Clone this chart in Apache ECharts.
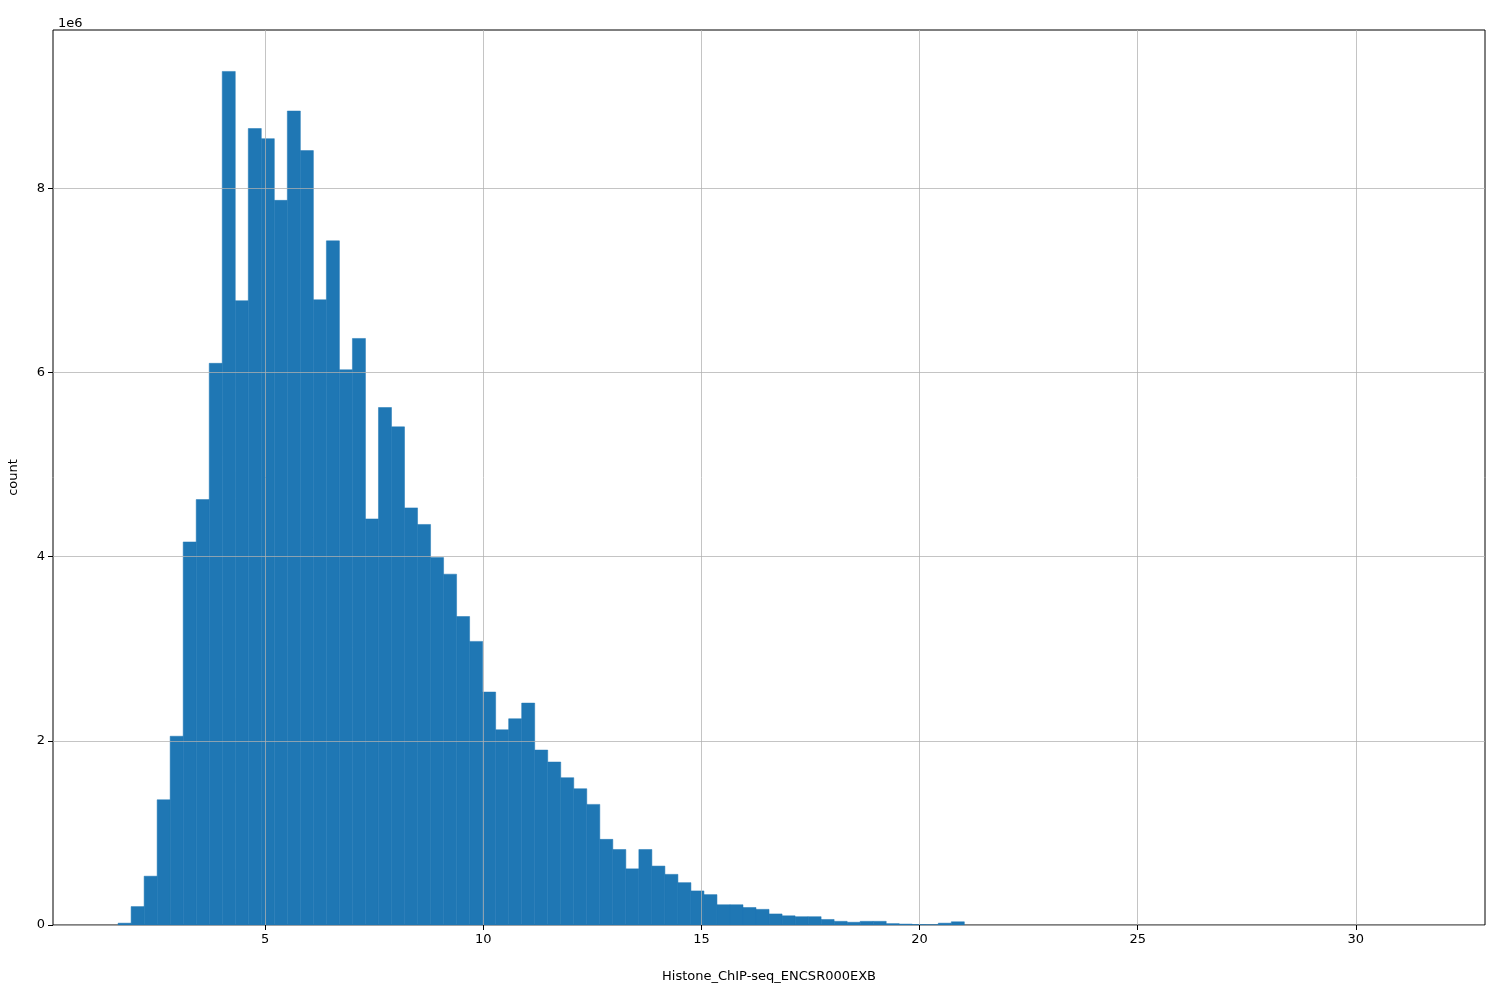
<!DOCTYPE html>
<html>
<head>
<meta charset="utf-8">
<script src="https://cdn.jsdelivr.net/npm/echarts@6/dist/echarts.min.js"></script>
<style>html,body{margin:0;padding:0;background:#fff}#main{width:1500px;height:1000px}</style>
</head>
<body>
<div id="main"></div>
<script>
// histogram: 100 bins from binStart, width binWidth
const binStart = 1.63;
const binWidth = 0.2984;
// counts in millions, per bin
const counts = [
  0.02, 0.2, 0.53, 1.36, 2.05, 4.16, 4.62, 6.1, 9.27, 6.78,
  8.65, 8.54, 7.87, 8.84, 8.41, 6.79, 7.43, 6.03, 6.37, 4.41,
  5.62, 5.41, 4.53, 4.35, 3.99, 3.81, 3.35, 3.08, 2.53, 2.12,
  2.24, 2.41, 1.9, 1.77, 1.6, 1.48, 1.31, 0.93, 0.82, 0.61,
  0.82, 0.64, 0.55, 0.46, 0.37, 0.33, 0.22, 0.22, 0.19, 0.17,
  0.12, 0.10, 0.09, 0.09, 0.06, 0.04, 0.03, 0.04, 0.04, 0.015,
  0.01, 0.005, 0.003, 0.02, 0.035
];
const xTicks = [5, 10, 15, 20, 25, 30];
const yTicks = [0, 2e6, 4e6, 6e6, 8e6];

const chart = echarts.init(document.getElementById('main'));
const data = counts.map((c, i) => [binStart + i * binWidth, binStart + (i + 1) * binWidth, c * 1e6]);
const font = 'DejaVu Sans';
const gridLine = { show: true, lineStyle: { color: 'rgba(176,176,176,0.75)', width: 1 } };

chart.setOption({
  animation: false,
  grid: { left: 53, right: 15, top: 30, bottom: 75, containLabel: false, outerBoundsMode: 'none',
    show: true, borderColor: '#000', borderWidth: 1 },
  title: { text: '1e6', left: 53, top: 12, textStyle: { fontSize: 13, fontWeight: 'normal', color: '#000', fontFamily: font } },
  xAxis: {
    type: 'value', min: 0.138, max: 32.96, z: 5,
    name: 'Histone_ChIP-seq_ENCSR000EXB', nameLocation: 'middle', nameGap: 45,
    nameTextStyle: { fontSize: 13, color: '#000', fontFamily: font },
    axisLine: { show: false },
    axisTick: { show: true, customValues: xTicks, length: 5, lineStyle: { color: '#000' } },
    axisLabel: { customValues: xTicks, fontSize: 13, color: '#000', fontFamily: font, margin: 8 },
    splitLine: gridLine
  },
  yAxis: {
    type: 'value', min: 0, max: 9.72e6, z: 5,
    name: 'count', nameLocation: 'middle', nameGap: 33,
    nameTextStyle: { fontSize: 13, color: '#000', fontFamily: font },
    axisLine: { show: false },
    axisTick: { show: true, customValues: yTicks, length: 5, lineStyle: { color: '#000' } },
    axisLabel: { customValues: yTicks, formatter: v => String(v / 1e6), fontSize: 13, color: '#000', fontFamily: font, margin: 8 },
    splitLine: gridLine
  },
  series: [{
    type: 'custom',
    data: data,
    z: 3,
    renderItem: (params, api) => {
      const p0 = api.coord([api.value(0), api.value(2)]);
      const p1 = api.coord([api.value(1), 0]);
      return {
        type: 'rect',
        shape: { x: p0[0], y: p0[1], width: p1[0] - p0[0], height: p1[1] - p0[1] },
        style: { fill: '#1f77b4', stroke: '#1f77b4', lineWidth: 0.5 }
      };
    }
  }]
});
</script>
</body>
</html>
